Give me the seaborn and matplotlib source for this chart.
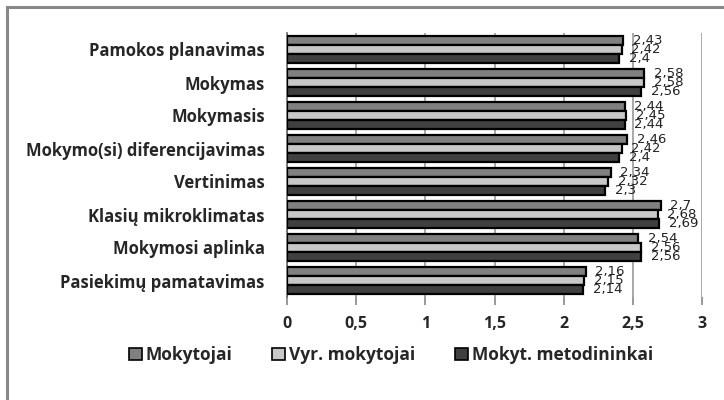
import pandas as pd
import seaborn as sns
import matplotlib.pyplot as plt
from matplotlib.patches import Rectangle, Patch
from matplotlib.ticker import FuncFormatter

## data ##
categories = ["Pamokos planavimas", "Mokymas", "Mokymasis",
              "Mokymo(si) diferencijavimas", "Vertinimas",
              "Klasių mikroklimatas", "Mokymosi aplinka",
              "Pasiekimų pamatavimas"]
series = ["Mokytojai", "Vyr. mokytojai", "Mokyt. metodininkai"]
mokytojai = [2.43, 2.58, 2.44, 2.46, 2.34, 2.7, 2.54, 2.16]
vyr_mokytojai = [2.42, 2.58, 2.45, 2.42, 2.32, 2.68, 2.56, 2.15]
metodininkai = [2.4, 2.56, 2.44, 2.4, 2.3, 2.69, 2.56, 2.14]
x_ticks = [0, 0.5, 1, 1.5, 2, 2.5, 3]

colors = ["#808080", "#c8c8c8", "#404040"]

# long form table for seaborn
rows = []
for name, vals in zip(series, [mokytojai, vyr_mokytojai, metodininkai]):
    for cat, v in zip(categories, vals):
        rows.append({"Kategorija": cat, "Grupe": name, "Reiksme": v})
df = pd.DataFrame(rows)

sns.set_style("white")
plt.rcParams["font.family"] = ["Open Sans", "DejaVu Sans"]

fig = plt.figure(figsize=(7.24, 4.0), dpi=100)
ax = fig.add_axes([287 / 724, 1 - 297 / 400, 415 / 724, 264 / 400])

sns.barplot(data=df, y="Kategorija", x="Reiksme", hue="Grupe",
            order=categories, hue_order=series, palette=colors,
            orient="h", width=0.8, edgecolor="black", linewidth=1.6,
            legend=False, ax=ax, zorder=3)

# value labels (comma decimals, like the original)
for cont in ax.containers:
    for rect in cont:
        w = rect.get_width()
        y = rect.get_y() + rect.get_height() / 2
        ax.text(w + 0.07, y, ("%g" % w).replace(".", ","),
                ha="left", va="center", fontsize=9.5,
                family="DejaVu Sans", color="#222222")

ax.set_xlim(0, 3)
ax.set_xticks(x_ticks)
ax.xaxis.set_major_formatter(FuncFormatter(lambda v, p: ("%g" % v).replace(".", ",")))
ax.grid(axis="x", color="#a8a8a8", lw=1.4, zorder=0)
ax.set_xlabel("")
ax.set_ylabel("")

for side in ["top", "right", "bottom"]:
    ax.spines[side].set_visible(False)
ax.spines["left"].set_color("#666666")
ax.spines["left"].set_linewidth(1.2)

# category boundary ticks on the y axis
ax.set_yticks([i - 0.5 for i in range(len(categories) + 1)], minor=True)
ax.tick_params(axis="y", which="major", length=0, pad=16, labelsize=12)
ax.tick_params(axis="y", which="minor", length=5, color="#888888", width=1)
ax.tick_params(axis="x", length=6, color="#999999", width=1.4,
               pad=8, labelsize=11.5, bottom=True)
for lab in ax.get_yticklabels() + ax.get_xticklabels():
    lab.set_fontweight("bold")

handles = [Patch(facecolor=c, edgecolor="black", lw=1.2) for c in colors]
fig.legend(handles, series, loc="center", bbox_to_anchor=(0.54, 1 - 355 / 400),
           ncol=3, frameon=False, handlelength=0.75, handleheight=0.75,
           handletextpad=0.2, columnspacing=2.3,
           prop={"weight": "bold", "size": 12.5})

# outer chart frame
fig.patches.append(Rectangle((7 / 724, -0.2), 1.2, 1 - 7 / 400 + 0.2,
                             transform=fig.transFigure, fill=False,
                             edgecolor="#888888", lw=2.2))

fig.savefig("out.png", dpi=100)
